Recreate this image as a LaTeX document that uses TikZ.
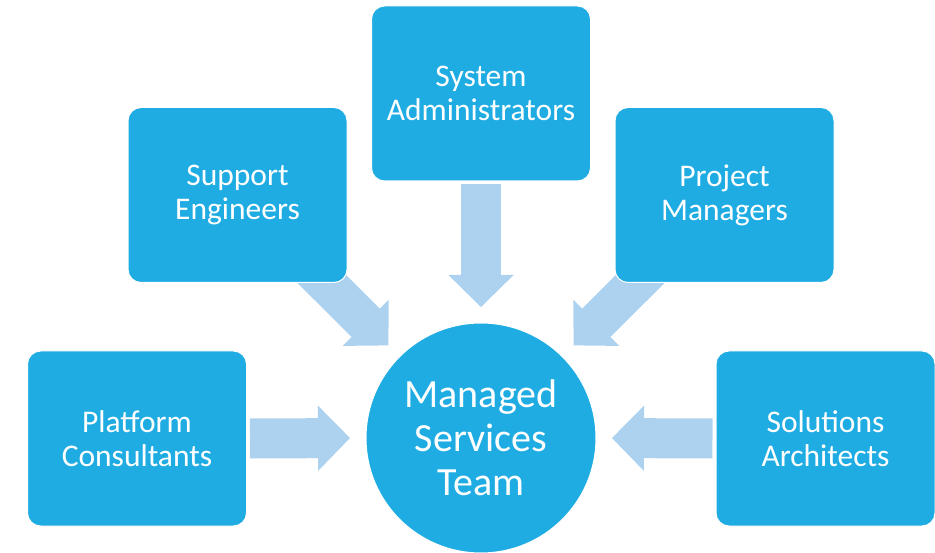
\documentclass[tikz,border=0pt]{standalone}
\usepackage{fontspec}
\setmainfont{Carlito}
\usetikzlibrary{arrows.meta,backgrounds}
\definecolor{boxblue}{HTML}{1FACE3}
\definecolor{feedblue}{HTML}{ADD2EF}
\tikzset{
  role/.style={rectangle, rounded corners=13pt, fill=boxblue, draw=white, line width=1pt,
    minimum width=219pt, minimum height=175pt, align=center, text=white,
    font=\fontsize{31.5}{34}\selectfont},
  hub/.style={circle, fill=boxblue, draw=white, line width=1pt, minimum size=230pt,
    inner sep=0pt, align=center, text=white, font=\fontsize{40}{44}\selectfont},
  feed/.style={draw=feedblue, line width=40pt,
    -{Triangle[length=32pt,width=65pt,line width=1.5pt]}, shorten >=15.5pt},
}

\begin{document}
\begin{tikzpicture}[x=1pt, y=-1pt]
  \useasboundingbox (0,0) rectangle (935,553);
  % the team in the middle
  \node[hub] (team) at (481,438) {Managed\\Services\\Team};
  % the roles around it
  \node[role] (sysadm) at (481,93.5) {System\\Administrators};
  \node[role] (supeng) at (237.5,195) {Support\\Engineers};
  \node[role] (projmgr) at (724.5,195) {Project\\Managers};
  \node[role] (platcons) at (137,438.5) {Platform\\Consultants};
  \node[role] (solarch) at (825.5,438.5) {Solutions\\Architects};
  % arrows behind the boxes
  \begin{scope}[on background layer]
    \draw[feed, shorten <=3pt] (sysadm.south) -- (team.north);
    \draw[feed, shorten <=3pt] (platcons.east) -- (team.west);
    \draw[feed, shorten <=3pt] (solarch.west) -- (team.east);
    \draw[feed] (supeng.center) -- (team.135);
    \draw[feed] (projmgr.center) -- (team.45);
  \end{scope}
\end{tikzpicture}
\end{document}
